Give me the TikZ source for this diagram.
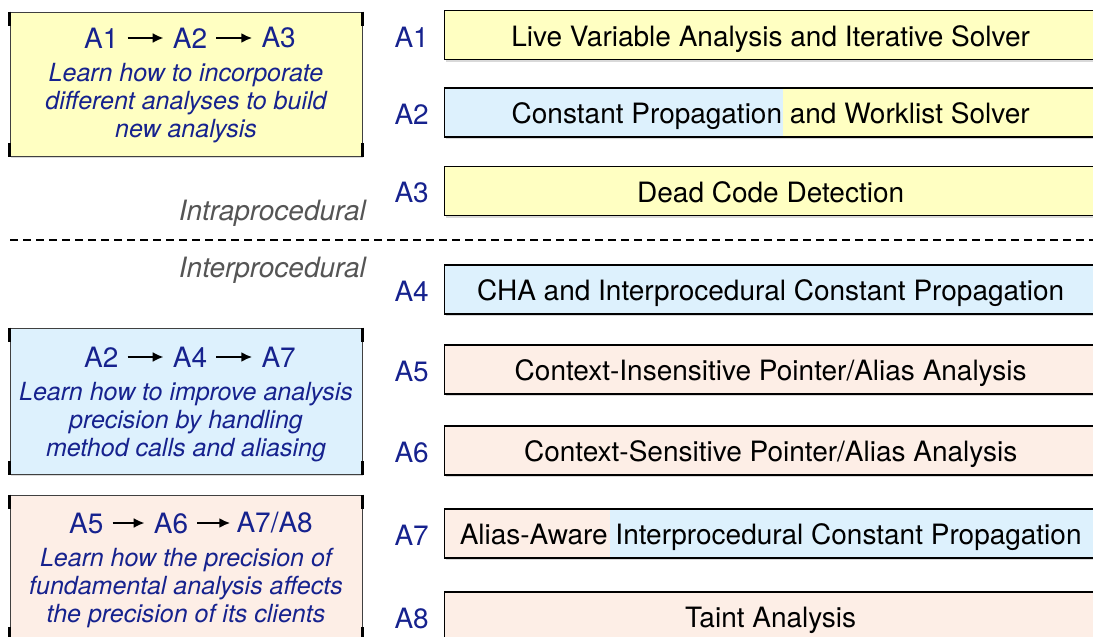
\documentclass[tikz,border=0pt]{standalone}
\usepackage{fontspec}
\setmainfont{TeX Gyre Heros}
\usetikzlibrary{positioning,arrows.meta,shadows}

\definecolor{lemon}{RGB}{255,255,194}
\definecolor{sky}{RGB}{221,241,253}
\definecolor{peach}{RGB}{253,238,230}
\definecolor{navy}{RGB}{22,34,142}
\definecolor{note}{RGB}{85,85,85}

\tikzset{
  task/.style={draw=black, line width=1.3pt, anchor=west, inner sep=0pt,
    minimum width=652pt, minimum height=49pt, text height=24pt, text depth=2pt,
    font=\fontsize{28}{33}\selectfont,
    drop shadow={shadow xshift=1pt, shadow yshift=-2pt, opacity=0.3}},
  tag/.style={text=navy, inner sep=0pt, yshift=-2pt, font=\fontsize{28}{33}\selectfont},
  goal/.style={draw=black!75, line width=1pt, minimum width=352pt,
    drop shadow={shadow xshift=1pt, shadow yshift=-2pt, opacity=0.3}},
  tick/.style={line width=3pt, black},
  head/.style={text=navy, inner sep=0pt, font=\fontsize{28}{33}\selectfont},
  blurb/.style={text=navy, align=center, inner sep=0pt,
    font=\fontsize{25}{28}\selectfont\itshape},
  flow/.style={-{Latex[length=11pt,width=10pt]}, line width=2.6pt,
    shorten <=9pt, shorten >=9pt},
  side/.style={text=note, anchor=east, inner sep=0pt,
    font=\fontsize{28}{32}\selectfont\itshape},
  split/.style 2 args={path picture={\fill[#1] (path picture bounding box.south west)
    rectangle ([xshift=#2]path picture bounding box.north west);}}
}

\begin{document}
\begin{tikzpicture}[x=1pt,y=-1pt]
\useasboundingbox (0,0) rectangle (1093,637);
\clip (0,0) rectangle (1093,637);

% assignments
\node[task, fill=lemon] (a1) at (444,35) {Live Variable Analysis and Iterative Solver};
\node[task, fill=lemon, split={sky}{338pt}] (a2) at (444,112.5) {Constant Propagation and Worklist Solver};
\node[task, fill=lemon] (a3) at (444,191) {Dead Code Detection};
\node[task, fill=sky] (a4) at (444,289.5) {CHA and Interprocedural Constant Propagation};
\node[task, fill=peach] (a5) at (444,369.5) {Context-Insensitive Pointer/Alias Analysis};
\node[task, fill=peach] (a6) at (444,450.5) {Context-Sensitive Pointer/Alias Analysis};
\node[task, fill=sky, split={peach}{165pt}] (a7) at (444,533.5) {Alias-Aware Interprocedural Constant Propagation};
\node[task, fill=peach] (a8) at (444,616.5) {Taint Analysis};

\foreach \i in {1,...,8}
  \node[tag, left=15pt of a\i] (l\i) {A\i};

% dividing line
\coordinate (cutl) at (10,240);
\coordinate (cutr) at (1093,240);
\draw[line width=1.6pt, dash pattern=on 8pt off 5pt] (cutl) -- (cutr);
\node[side] (intra) at (366,213) {Intraprocedural};
\node[side] (inter) at (366,270) {Interprocedural};

% goals
\node[goal, fill=lemon, minimum height=144pt] (g1) at (186,84) {};
\node[goal, fill=sky, minimum height=146pt] (g2) at (186,401) {};
\node[goal, fill=peach, minimum height=145pt] (g3) at (186,567.5) {};
\foreach \b in {g1,g2,g3} {
  \draw[tick] (\b.north west) -- ++(0,14);
  \draw[tick] (\b.north east) -- ++(0,14);
  \draw[tick] (\b.south west) -- ++(0,-14);
  \draw[tick] (\b.south east) -- ++(0,-14);
}

\node[head] (t12) at (190,38) {A2};
\node[head, left=54pt of t12] (t11) {A1};
\node[head, right=54pt of t12] (t13) {A3};
\draw[flow] (t11) -- (t12);
\draw[flow] (t12) -- (t13);
\node[blurb] (d1) at (186,103) {Learn how to incorporate\\different analyses to build\\new analysis};

\node[head] (t22) at (190,357) {A4};
\node[head, left=54pt of t22] (t21) {A2};
\node[head, right=54pt of t22] (t23) {A7};
\draw[flow] (t21) -- (t22);
\draw[flow] (t22) -- (t23);
\node[blurb] (d2) at (186,422) {Learn how to improve analysis\\precision by handling\\method calls and aliasing};

\node[head] (t32) at (171,523) {A6};
\node[head, left=50pt of t32] (t31) {A5};
\node[head, right=48pt of t32] (t33) {A7/A8};
\draw[flow] (t31) -- (t32);
\draw[flow, shorten >=6pt] (t32) -- (t33);
\node[blurb] (d3) at (186,588.5) {Learn how the precision of\\fundamental analysis affects\\the precision of its clients};
\end{tikzpicture}
\end{document}
